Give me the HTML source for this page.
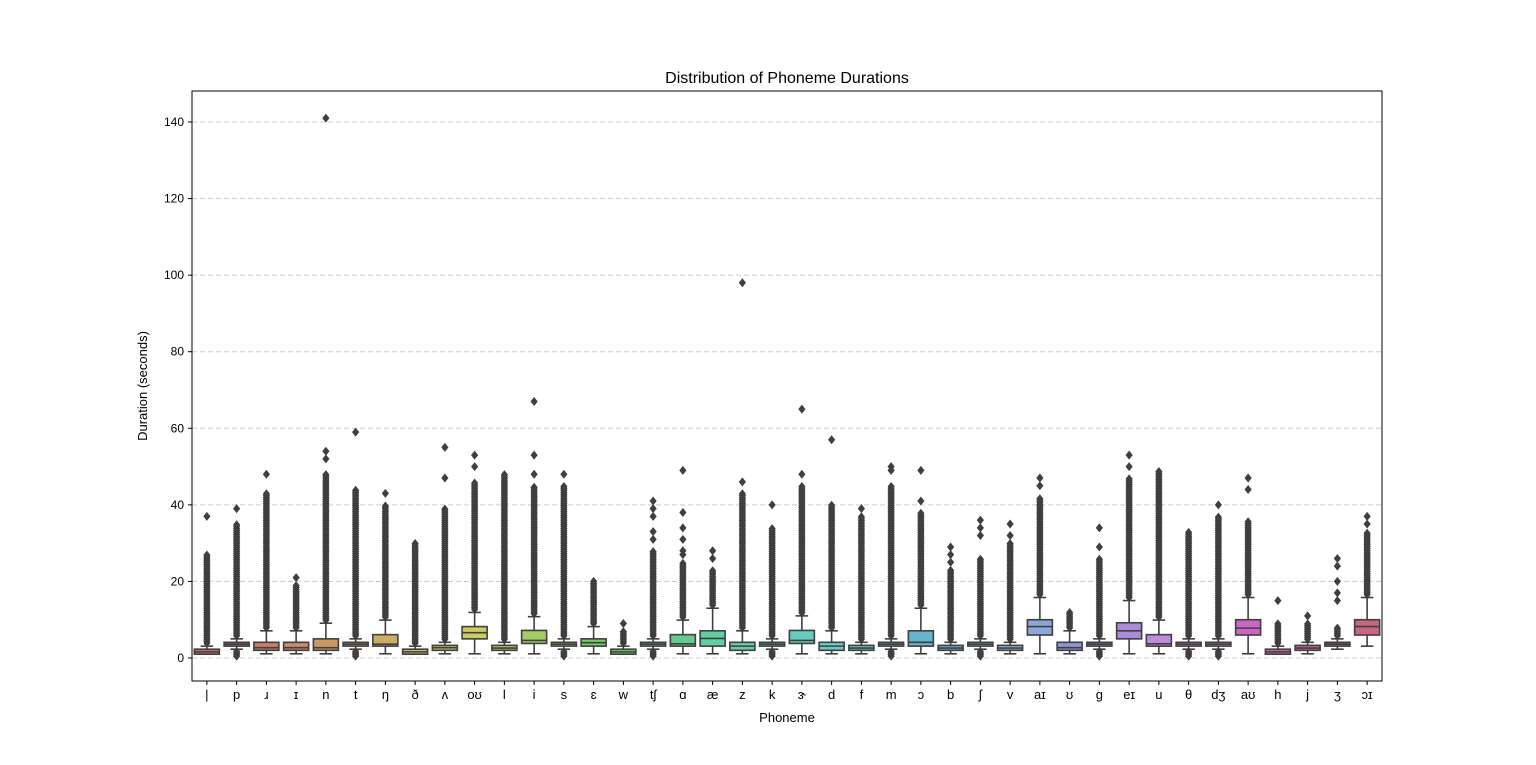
<!DOCTYPE html>
<html><head><meta charset="utf-8"><style>
body{margin:0;background:#fff;}
svg{display:block;font-family:"Liberation Sans","DejaVu Sans",sans-serif;}
</style></head><body>
<svg id="chart" width="1536" height="765" xmlns="http://www.w3.org/2000/svg">
<rect width="1536" height="765" fill="#fff"/>
<text x="787" y="83" text-anchor="middle" font-size="16" fill="#000">Distribution of Phoneme Durations</text>
<text x="787" y="722" text-anchor="middle" font-size="13" fill="#000">Phoneme</text>
<text transform="translate(147,386) rotate(-90)" text-anchor="middle" font-size="13" fill="#000">Duration (seconds)</text>
<g id="grid"></g><g id="plot"></g><g id="axes"></g>
</svg>
<script>
const categories=["|","p","ɹ","ɪ","n","t","ŋ","ð","ʌ","oʊ","l","i","s","ɛ","w","tʃ","ɑ","æ","z","k","ɝ","d","f","m","ɔ","b","ʃ","v","aɪ","ʊ","g","eɪ","u","θ","dʒ","aʊ","h","j","ʒ","ɔɪ"];
const whiskerLow=[1,2.3,1.1,1.1,1.1,2.3,1.1,1,1.1,1.1,1.1,1.1,2.3,1.1,1,2.3,1.1,1.1,1.1,2.3,1.1,1.1,1.1,2.3,1.1,1.1,2.3,1.1,1.1,1.1,2.3,1.1,1.1,2.3,2.3,1.1,1,1.1,2.3,3.1];
const q1=[1,3.1,2,2,2,3.1,3.1,1,2,5,2,3.8,3.1,3.1,1,3.1,3.1,3.1,2,3.1,3.8,2,2,3.1,3.1,2,3.1,2,6,2,3.1,5,3.1,3.1,3.1,6,1,2,3.1,6];
const medians=[1.6,3.6,2.7,2.7,2.7,3.6,3.6,1.6,2.7,6.6,2.6,4.6,3.6,4,1.6,3.6,3.7,5.1,3.1,3.6,4.6,3.1,2.6,3.6,4.1,2.6,3.6,2.6,8.2,2.7,3.6,7.1,3.7,3.6,3.6,7.8,1.6,2.6,3.6,8.2];
const q3=[2.3,4.1,4.1,4.1,5,4.1,6.1,2.3,3.3,8.2,3.3,7.2,4.1,5,2.3,4.1,6.1,7.1,4.1,4.1,7.2,4.1,3.3,4.1,7.1,3.3,4.1,3.3,10,4.1,4.1,9.2,6.1,4.1,4.1,10,2.3,3.3,4.1,10];
const whiskerHigh=[3.1,5,7.1,7.1,9.1,5,9.9,3.1,4.1,11.9,4.1,10.8,5,8.2,3.1,5,9.9,13,7.1,5,11,7.1,4.1,5,13,4.1,5,4.1,15.8,7.1,5,15,9.9,5,5,15.8,3.1,4.1,5,15.8];
const outlierTop=[27,35,43,19,48,44,40,30,39,46,48,45,45,20,7,28,25,23,43,34,45,40,37,45,38,23,26,30,42,12,26,47,49,33,37,36,9,9,8,33];
const lowOutliers=[0,1,0,0,0,1,0,0,0,0,0,0,1,0,0,1,0,0,0,1,0,0,0,1,0,0,1,0,0,0,1,0,0,1,1,0,0,0,0,0];
const extraOutliers=[[37],[39],[48],[21],[52,54,141],[59],[43],[],[47,55],[50,53],[],[48,53,67],[48],[],[9],[31,33,37,39,41],[27,28,31,34,38,49],[26,28],[46,98],[40],[48,65],[57],[39],[49,50],[41,49],[25,27,29],[32,34,36],[32,35],[45,47],[],[29,34],[50,53],[],[],[40],[44,47],[15],[11],[15,17,20,24,26],[35,37]];
const yTicks=[0,20,40,60,80,100,120,140];

const NS="http://www.w3.org/2000/svg";
const X0=192,X1=1382,Y0=91,Y1=681;
const step=(X1-X0)/categories.length;
const xPos=i=>X0+step*(i+0.5);
const yPos=v=>658-v*(658-122)/140;
function mk(tag,attrs,parent){const e=document.createElementNS(NS,tag);for(const k in attrs)e.setAttribute(k,attrs[k]);parent.appendChild(e);return e;}
const hueAnchors=[[0,355],[4,390],[9,420],[13,470],[17,515],[21,540],[24,555],[27,565],[28,580],[29,592],[31,625],[32,640],[35,665],[36,680],[39,705]];
function hueAt(i){for(let k=0;k<hueAnchors.length-1;k++){const [a,ha]=hueAnchors[k],[b,hb]=hueAnchors[k+1];if(i>=a&&i<=b)return (ha+(hb-ha)*(i-a)/(b-a))%360;}return 0;}
const grid=document.getElementById('grid'),plot=document.getElementById('plot'),axes=document.getElementById('axes');
yTicks.forEach(t=>{
  const g=mk('line',{x1:X0,x2:X1,y1:yPos(t),y2:yPos(t),stroke:'#cccccc','stroke-dasharray':'5,3','stroke-width':1},grid);
  
  
  mk('line',{x1:X0-4,x2:X0,y1:yPos(t),y2:yPos(t),stroke:'#000'},axes);
  const tx=mk('text',{x:X0-8,y:yPos(t)+4,'text-anchor':'end','font-size':12},axes);
  tx.textContent=t;
  
  
});
const ec='#3f3f3f',bw=25;
function diamond(x,y,parent){
  return mk('path',{d:`M${x} ${y-4.5}L${x+3.6} ${y}L${x} ${y+4.5}L${x-3.6} ${y}Z`,fill:ec},parent);
}
categories.forEach((c,i)=>{
  const x=xPos(i);
  const g=mk('g',{},plot);
  
  
  const h=hueAt(i);
  const light=(h>200&&h<300)?70:60;
  const col=`hsl(${h},50%,${light}%)`;
  const start=whiskerHigh[i]+0.8;
  for(let v=start;v<=outlierTop[i];v+=0.5) diamond(x,yPos(v),g);
  extraOutliers[i].forEach(v=>diamond(x,yPos(v),g));
  if(lowOutliers[i]) for(let v=0.5;v<whiskerLow[i]-0.3;v+=0.4) diamond(x,yPos(v),g);
  mk('line',{x1:x,x2:x,y1:yPos(whiskerHigh[i]),y2:yPos(q3[i]),stroke:ec,'stroke-width':1.6},g);
  mk('line',{x1:x,x2:x,y1:yPos(q1[i]),y2:yPos(whiskerLow[i]),stroke:ec,'stroke-width':1.6},g);
  mk('line',{x1:x-bw/4,x2:x+bw/4,y1:yPos(whiskerHigh[i]),y2:yPos(whiskerHigh[i]),stroke:ec,'stroke-width':1.6},g);
  mk('line',{x1:x-bw/4,x2:x+bw/4,y1:yPos(whiskerLow[i]),y2:yPos(whiskerLow[i]),stroke:ec,'stroke-width':1.6},g);
  const b=mk('rect',{x:x-bw/2,y:yPos(q3[i]),width:bw,height:Math.max(1,yPos(q1[i])-yPos(q3[i])),fill:col,stroke:ec,'stroke-width':1.6},g);
  
  
  mk('line',{x1:x-bw/2,x2:x+bw/2,y1:yPos(medians[i]),y2:yPos(medians[i]),stroke:ec,'stroke-width':1.6},g);
  mk('line',{x1:x,x2:x,y1:Y1,y2:Y1+4,stroke:'#000'},axes);
  const tx=mk('text',{x:x,y:Y1+18,'text-anchor':'middle','font-size':13},axes);
  tx.textContent=c;
  
  
});
const fr=mk('rect',{x:X0,y:Y0,width:X1-X0,height:Y1-Y0,fill:'none',stroke:'#000','stroke-width':1},axes);


</script>
</body></html>
